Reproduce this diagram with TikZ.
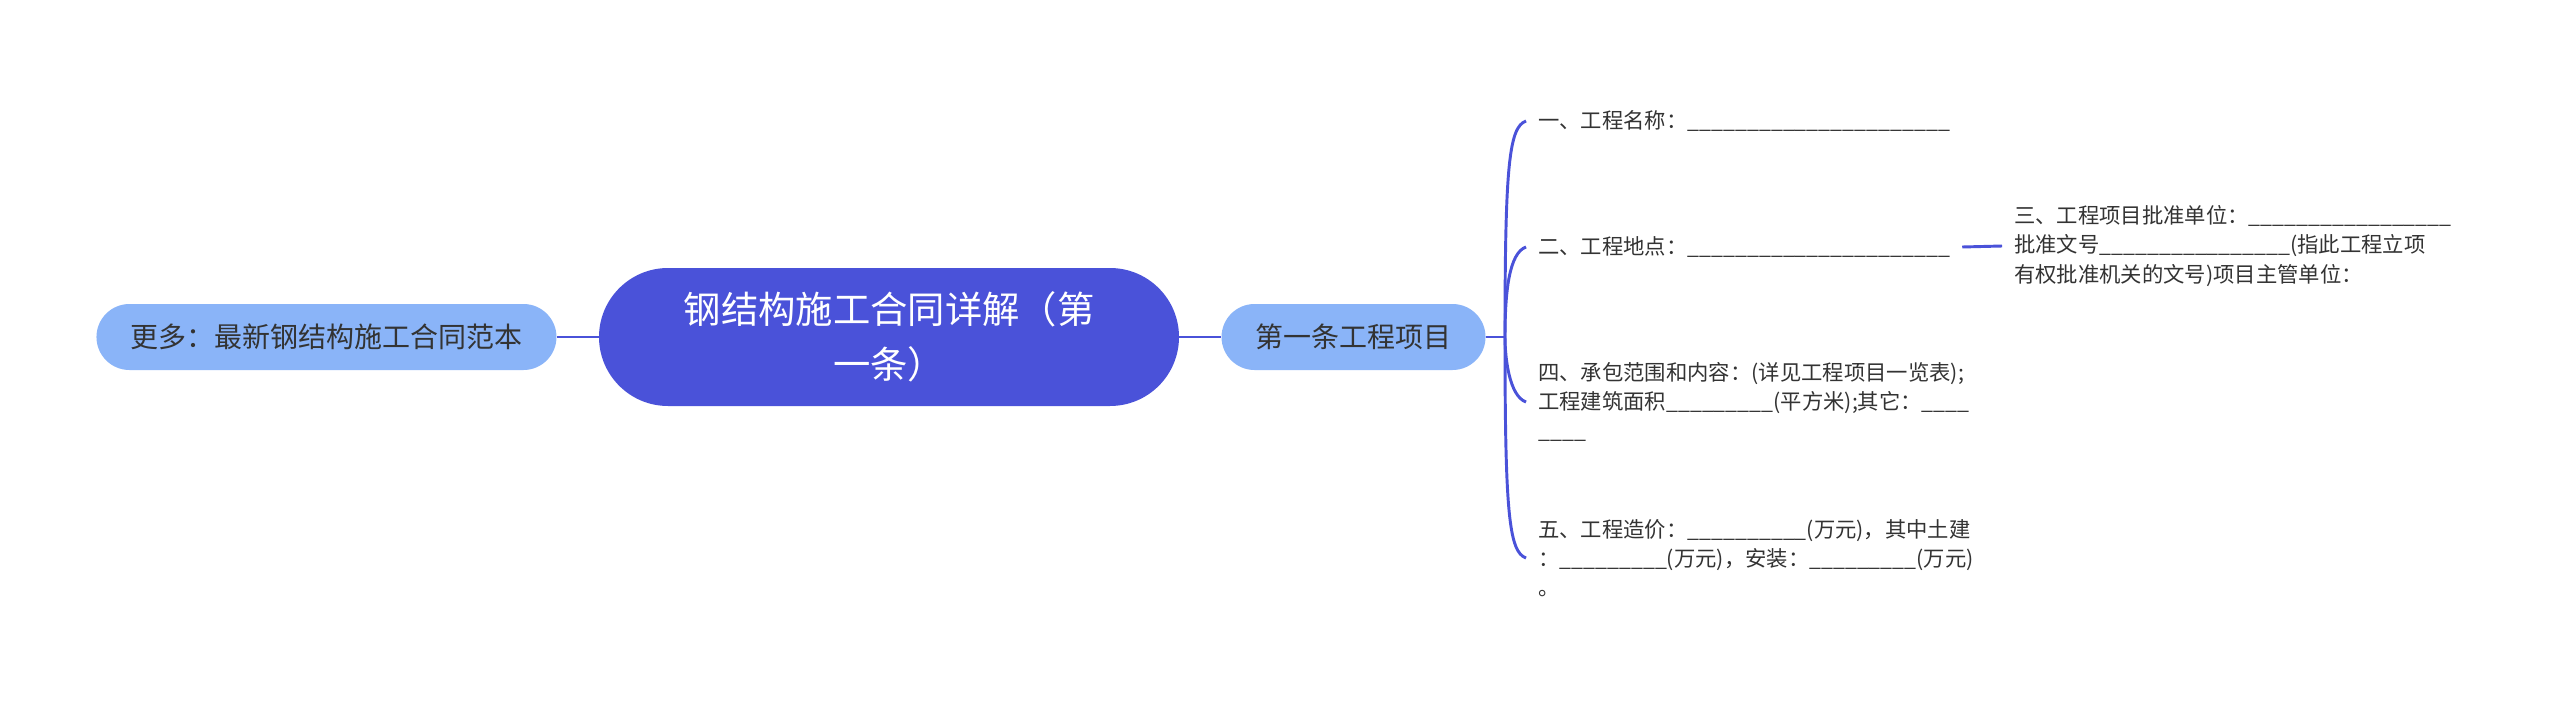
\documentclass[tikz,border=0pt]{standalone}
\usepackage{fontspec}
\setmainfont{Noto Sans CJK SC}
\usetikzlibrary{positioning}
\definecolor{rootblue}{RGB}{74,82,217}
\definecolor{topicblue}{RGB}{138,180,248}
\definecolor{textgray}{RGB}{51,51,51}
\newcommand{\fillin}[1]{\foreach \k in {1,...,#1}{\_}}
\tikzset{
  rootnode/.style={rectangle, rounded corners=51.75pt, minimum width=435pt,
    minimum height=103.5pt, inner sep=0pt, fill=rootblue, text=white,
    align=center, font=\fontsize{28pt}{41pt}\selectfont},
  topicnode/.style={rectangle, rounded corners=24.75pt, minimum height=49.5pt,
    inner xsep=25.5pt, inner ysep=0pt, fill=topicblue, text=textgray,
    font=\fontsize{21pt}{25pt}\selectfont},
  leafnode/.style={anchor=west, align=left, inner xsep=9pt, inner ysep=0pt,
    text=textgray, font=\fontsize{16pt}{22pt}\selectfont},
  link/.style={draw=rootblue, line width=2.2pt}
}
\begin{document}
\begin{tikzpicture}[x=0.75pt, y=-0.75pt, node distance=31.5pt]
\useasboundingbox[fill=white] (0,0) rectangle (2560,703);

\node (root) [rootnode] at (889,337) {钢结构施工合同详解（第\\一条）};
\node (more) [topicnode, left=of root] {更多：最新钢结构施工合同范本};
\node (art1) [topicnode, right=of root] {第一条工程项目};
\coordinate (fork) at (1505,337);

\node (name)   [leafnode] at (1526,121) {一、工程名称：\fillin{22}};
\node (site)   [leafnode] at (1526,247) {二、工程地点：\fillin{22}};
\node (ratify) [leafnode] at (2002,246)
      {三、工程项目批准单位：\fillin{17}\\
       批准文号\fillin{16}(指此工程立项\\
       有权批准机关的文号)项目主管单位：};
\node (scope)  [leafnode] at (1526,402)
      {四、承包范围和内容：(详见工程项目一览表);\\
       工程建筑面积\fillin{9}(平方米);其它：\fillin{4}\\
       \fillin{4}};
\node (cost)   [leafnode] at (1526,558)
      {五、工程造价：\fillin{10}(万元)，其中土建\\
       ：\fillin{9}(万元)，安装：\fillin{9}(万元)\\
       。};

\draw[link] (more) -- (root);
\draw[link] (root) -- (art1);
\draw[link] (art1) -- (fork);
\draw[link] (fork) .. controls (1505,166) and (1509,127) .. (name.west);
\draw[link] (fork) .. controls (1505,292) and (1509,253) .. (site.west);
\draw[link] (fork) .. controls (1505,357) and (1509,396) .. (scope.west);
\draw[link] (fork) .. controls (1505,513) and (1509,552) .. (cost.west);
\draw[link] (site.east) -- (ratify.west);
\end{tikzpicture}
\end{document}
